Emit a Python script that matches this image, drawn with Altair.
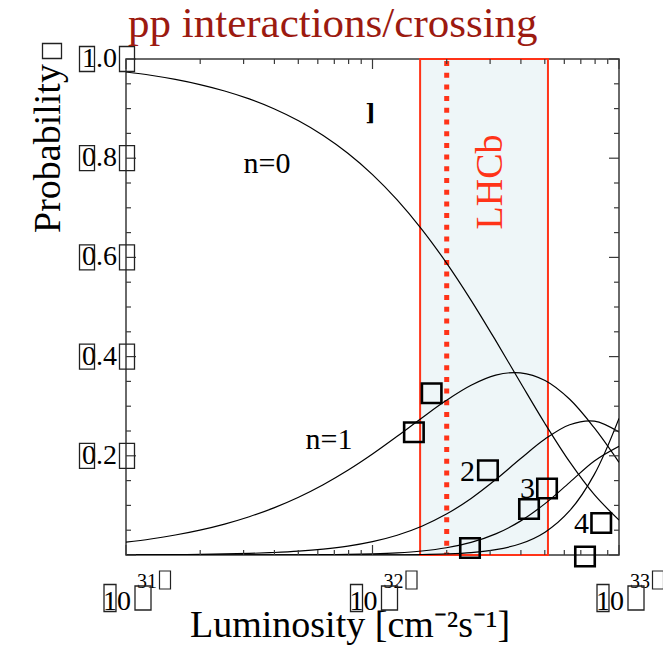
import altair as alt
import pandas as pd

# Luminosity grid (cm^-2 s^-1), 0.1-decade steps
lum = [1.000e31, 1.259e31, 1.585e31, 1.995e31, 2.512e31, 3.162e31, 3.981e31, 5.012e31, 6.310e31, 7.943e31,
       1.000e32, 1.259e32, 1.585e32, 1.995e32, 2.512e32, 3.162e32, 3.981e32, 5.012e32, 6.310e32, 7.943e32,
       1.000e33]
prob_n0 = [0.9738, 0.9672, 0.9588, 0.9484, 0.9355, 0.9195, 0.8998, 0.8755, 0.8459, 0.8100,
           0.7670, 0.7160, 0.6567, 0.5890, 0.5135, 0.4321, 0.3478, 0.2647, 0.1876, 0.1216, 0.0705]
prob_n1 = [0.0258, 0.0323, 0.0403, 0.0502, 0.0624, 0.0772, 0.0950, 0.1164, 0.1416, 0.1707,
           0.2035, 0.2392, 0.2762, 0.3118, 0.3422, 0.3626, 0.3673, 0.3518, 0.3139, 0.2562, 0.1869]
prob_n2 = [0.0003, 0.0005, 0.0008, 0.0013, 0.0021, 0.0032, 0.0050, 0.0077, 0.0119, 0.0180,
           0.0270, 0.0399, 0.0581, 0.0825, 0.1140, 0.1521, 0.1940, 0.2338, 0.2627, 0.2699, 0.2479]
prob_n3 = [0.0000, 0.0000, 0.0000, 0.0000, 0.0000, 0.0001, 0.0002, 0.0003, 0.0007, 0.0013,
           0.0024, 0.0044, 0.0081, 0.0146, 0.0253, 0.0425, 0.0683, 0.1036, 0.1465, 0.1896, 0.2192]
prob_n4 = [0.0000, 0.0000, 0.0000, 0.0000, 0.0000, 0.0000, 0.0000, 0.0000, 0.0000, 0.0001,
           0.0002, 0.0004, 0.0009, 0.0022, 0.0049, 0.0107, 0.0226, 0.0461, 0.0893, 0.1626, 0.2755]
curve_names = ["n=0", "n=1", "n=2", "n=3", "n>=4"]

# LHCb operating range and nominal luminosity
lhcb_lo, lhcb_hi, lhcb_nominal = 1.56e32, 5.15e32, 2.0e32

# in-plot labels
label_text = ["n=0", "n=1", "2", "3", "4"]
label_lum = [3.73e31, 6.66e31, 2.43e32, 4.255e32, 7.05e32]
label_prob = [0.771, 0.213, 0.150, 0.114, 0.044]

# open square markers (missing-glyph boxes of the original)
box_lum = [1.472e32, 1.738e32, 2.486e32, 2.94e32, 4.315e32, 5.105e32, 7.28e32, 8.47e32]
box_prob = [0.2476, 0.326, 0.014, 0.171, 0.0927, 0.134, -0.003, 0.0645]

# axis ticks
y_major = [0.0, 0.2, 0.4, 0.6, 0.8, 1.0]
y_minor = [0.05, 0.1, 0.15, 0.25, 0.3, 0.35, 0.45, 0.5, 0.55, 0.65, 0.7, 0.75, 0.85, 0.9, 0.95]
y_labels = ["0.2", "0.4", "0.6", "0.8", "1.0"]
y_label_vals = [0.2, 0.4, 0.6, 0.8, 1.0]
x_major = [1e31, 1e32, 1e33]
x_exponents = ["31", "32", "33"]
x_minor = [2e31, 3e31, 4e31, 5e31, 6e31, 7e31, 8e31, 9e31,
           2e32, 3e32, 4e32, 5e32, 6e32, 7e32, 8e32, 9e32]

W, H = 493, 496
FONT = "Liberation Serif"
AX = "#3a3a3a"
RED = "#ff3318"

xs = alt.Scale(type="log", domain=[1e31, 1e33], nice=False)
ys = alt.Scale(domain=[0, 1], nice=False, zero=False)

rows = []
for name, vals in zip(curve_names, [prob_n0, prob_n1, prob_n2, prob_n3, prob_n4]):
    for l, v in zip(lum, vals):
        rows.append({"L": l, "P": v, "n": name})
curves_df = pd.DataFrame(rows)

band = alt.Chart(pd.DataFrame({"a": [lhcb_lo], "b": [lhcb_hi]})).mark_rect(
    fill="#eef6f8", stroke=RED, strokeWidth=2
).encode(
    x=alt.X("a:Q", scale=xs, axis=None), x2="b:Q",
    y=alt.value(0), y2=alt.value(H)
)
nominal = alt.Chart(pd.DataFrame({"a": [lhcb_nominal]})).mark_rule(
    color=RED, strokeWidth=5, strokeDash=[5, 6.7], strokeCap="butt"
).encode(x=alt.X("a:Q", scale=xs, axis=None), y=alt.value(2), y2=alt.value(H))

lhcb_text = alt.Chart(pd.DataFrame({"a": [3.35e32], "p": [0.752], "t": ["LHCb"]})).mark_text(
    font=FONT, fontSize=38, color=RED, angle=270, align="center", baseline="alphabetic"
).encode(x=alt.X("a:Q", scale=xs, axis=None), y=alt.Y("p:Q", scale=ys, axis=None), text="t:N")

curves = alt.Chart(curves_df).mark_line(
    color="black", strokeWidth=1.2, interpolate="catmull-rom", clip=True
).encode(
    x=alt.X("L:Q", scale=xs, axis=None),
    y=alt.Y("P:Q", scale=ys, axis=None),
    detail="n:N"
)

labels = alt.Chart(pd.DataFrame({"a": label_lum, "p": label_prob, "t": label_text})).mark_text(
    font=FONT, fontSize=30, color="black", align="center", baseline="alphabetic"
).encode(x=alt.X("a:Q", scale=xs, axis=None), y=alt.Y("p:Q", scale=ys, axis=None), text="t:N")

bracket = alt.Chart(pd.DataFrame({"a": [9.82e31], "p": [0.891], "t": ["]"]})).mark_text(
    font="DejaVu Serif", fontSize=22, fontWeight="bold", color="black", align="center", baseline="middle"
).encode(x=alt.X("a:Q", scale=xs, axis=None), y=alt.Y("p:Q", scale=ys, axis=None), text="t:N")

boxes = alt.Chart(pd.DataFrame({"a": box_lum, "p": box_prob})).mark_point(
    shape="square", size=380, filled=False, color="black", strokeWidth=2.6, opacity=1
).encode(x=alt.X("a:Q", scale=xs, axis=None), y=alt.Y("p:Q", scale=ys, axis=None))

# ---- ticks (ROOT style, pointing inward, on all four sides)
ymaj = pd.DataFrame({"v": y_major})
ymin = pd.DataFrame({"v": y_minor})
xmaj = pd.DataFrame({"v": x_major})
xmin = pd.DataFrame({"v": x_minor})

def yticks(df, length):
    left = alt.Chart(df).mark_rule(color=AX, strokeWidth=1.2).encode(
        y=alt.Y("v:Q", scale=ys, axis=None), x=alt.value(0), x2=alt.value(length))
    right = alt.Chart(df).mark_rule(color=AX, strokeWidth=1.2).encode(
        y=alt.Y("v:Q", scale=ys, axis=None), x=alt.value(W), x2=alt.value(W - length))
    return [left, right]

def xticks(df, length):
    bottom = alt.Chart(df).mark_rule(color=AX, strokeWidth=1.2).encode(
        x=alt.X("v:Q", scale=xs, axis=None), y=alt.value(H), y2=alt.value(H - length))
    top = alt.Chart(df).mark_rule(color=AX, strokeWidth=1.2).encode(
        x=alt.X("v:Q", scale=xs, axis=None), y=alt.value(0), y2=alt.value(length))
    return [bottom, top]

tick_layers = yticks(ymaj, 10) + yticks(ymin, 5) + xticks(xmaj, 10) + xticks(xmin, 5)

# ---- tick labels
ylab_df = pd.DataFrame({"v": y_label_vals, "t": y_labels})
ylab = alt.Chart(ylab_df).mark_text(
    font=FONT, fontSize=28, color="black", align="right", baseline="middle"
).encode(y=alt.Y("v:Q", scale=ys, axis=None), x=alt.value(-9), text="t:N")
tall_box = "M-0.6,-1L0.6,-1L0.6,1L-0.6,1Z"
ylab_box_r = alt.Chart(ylab_df).mark_point(
    shape=tall_box, size=625, filled=False, color="#222", strokeWidth=1.3, opacity=1
).encode(y=alt.Y("v:Q", scale=ys, axis=None), x=alt.value(1))
ylab_box_l = alt.Chart(ylab_df).mark_point(
    shape=tall_box, size=625, filled=False, color="#222", strokeWidth=1.3, opacity=1
).encode(y=alt.Y("v:Q", scale=ys, axis=None), x=alt.value(-39))

xlab_df = pd.DataFrame({"v": x_major, "e": x_exponents, "ten": ["10"] * 3})
xlab_ten = alt.Chart(xlab_df).mark_text(
    font=FONT, fontSize=28, color="black", align="center", baseline="alphabetic", dx=-9
).encode(x=alt.X("v:Q", scale=xs, axis=None), y=alt.value(H + 55), text="ten:N")
xlab_exp = alt.Chart(xlab_df).mark_text(
    font=FONT, fontSize=20, color="black", align="center", baseline="alphabetic", dx=21
).encode(x=alt.X("v:Q", scale=xs, axis=None), y=alt.value(H + 33), text="e:N")
xbox1 = alt.Chart(xlab_df).mark_point(
    shape="M-0.444,-1L0.444,-1L0.444,1L-0.444,1Z", size=729, filled=False,
    color="#222", strokeWidth=1.3, opacity=1, xOffset=-16
).encode(x=alt.X("v:Q", scale=xs, axis=None), y=alt.value(H + 43))
xbox2 = alt.Chart(xlab_df).mark_point(
    shape="M-0.667,-1L0.667,-1L0.667,1L-0.667,1Z", size=576, filled=False,
    color="#222", strokeWidth=1.3, opacity=1, xOffset=17
).encode(x=alt.X("v:Q", scale=xs, axis=None), y=alt.value(H + 43))
xbox3 = alt.Chart(xlab_df).mark_point(
    shape="M-0.611,-1L0.611,-1L0.611,1L-0.611,1Z", size=324, filled=False,
    color="#222", strokeWidth=1.2, opacity=1, xOffset=39
).encode(x=alt.X("v:Q", scale=xs, axis=None), y=alt.value(H + 25))

# ---- titles
misc = pd.DataFrame({"t": ["pp interactions/crossing"]})
title = alt.Chart(misc).mark_text(
    font=FONT, fontSize=43, color="#9c1a10", align="left", baseline="alphabetic"
).encode(x=alt.value(2), y=alt.value(-22), text="t:N")
ytitle = alt.Chart(pd.DataFrame({"t": ["Probability"]})).mark_text(
    font=FONT, fontSize=38, color="black", align="left", baseline="alphabetic", angle=270
).encode(x=alt.value(-66), y=alt.value(174), text="t:N")
ytitle_box = alt.Chart(pd.DataFrame({"t": [""]})).mark_point(
    shape="M-1,-0.79L1,-0.79L1,0.79L-1,0.79Z", size=361, filled=False,
    color="#222", strokeWidth=1.3, opacity=1
).encode(x=alt.value(-74), y=alt.value(-8))
xtitle = alt.Chart(pd.DataFrame({"t": ["Luminosity [cm⁻²s⁻¹]"]})).mark_text(
    font=FONT, fontSize=38, color="black", align="left", baseline="alphabetic"
).encode(x=alt.value(64), y=alt.value(H + 82), text="t:N")

chart = alt.layer(
    band, nominal, lhcb_text, curves, *tick_layers,
    labels, bracket, boxes,
    ylab, ylab_box_r, ylab_box_l, xlab_ten, xlab_exp, xbox1, xbox2, xbox3,
    title, ytitle, ytitle_box, xtitle
).properties(
    width=W, height=H,
    autosize=alt.AutoSizeParams(type="none"),
    padding={"left": 126, "top": 59, "right": 44, "bottom": 91},
    background="white"
).configure_view(stroke=AX, strokeWidth=1.5)

chart.save("out.html", embed_options={"renderer": "svg", "actions": False})
